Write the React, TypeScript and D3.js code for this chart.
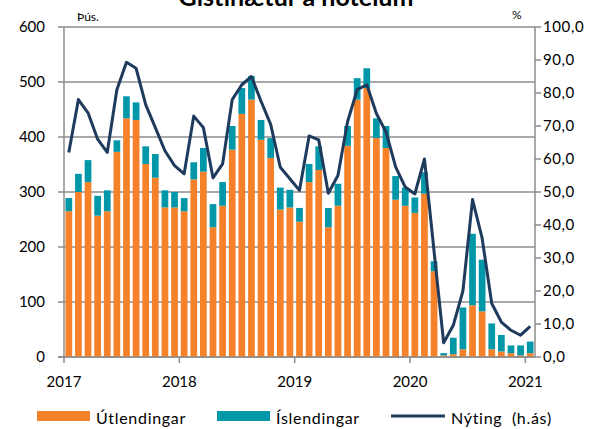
import React, { useRef, useEffect } from "react";
import * as d3 from "d3";

// months Jan 2017 - Jan 2021
const years = ["2017", "2018", "2019", "2020", "2021"];
const months = d3.range(49).map((i) => `${2017 + Math.floor(i / 12)}-${(i % 12) + 1}`);

// Þús. gistinætur
const utlendingar = [
  265, 300, 318, 257, 265, 373, 434, 431, 351, 326, 272, 272,
  265, 323, 337, 236, 275, 377, 442, 468, 395, 362, 268, 272,
  246, 318, 340, 236, 275, 384, 468, 489, 398, 380, 286, 275,
  262, 297, 156, 3, 5, 14, 94, 83, 14, 10, 7, 3,
  7,
];
const islendingar = [
  24, 33, 40, 36, 38, 21, 40, 32, 32, 43, 31, 28,
  24, 31, 43, 42, 43, 43, 47, 43, 36, 36, 40, 32,
  25, 33, 43, 35, 40, 36, 39, 36, 36, 40, 43, 33,
  28, 39, 18, 4, 30, 76, 130, 94, 47, 30, 14, 18,
  21,
];
// Nýting herbergja, %
const nyting = [
  62, 78, 74, 66, 62, 81, 89.3, 87.5, 76.5, 69.5, 62.5, 58,
  55.5, 73, 69.5, 54.3, 58.5, 78, 82.5, 85, 77.5, 70.5, 57.5, 54,
  50.5, 67, 65.8, 49.6, 55, 71.3, 81, 82.5, 73.8, 68.2, 57.6, 51.5,
  49.4, 60, 32, 4.3, 9.6, 20, 47.7, 36, 16.2, 10.6, 8.1, 6.6,
  9.3,
];
const leftTicks = [0, 100, 200, 300, 400, 500, 600];
const rightTicks = [0, 10, 20, 30, 40, 50, 60, 70, 80, 90, 100];

const ORANGE = "#F5822A";
const TEAL = "#0097A9";
const NAVY = "#1E3A5C";
const GRID = "#8C8C8C";
const FONT = "Lato, 'Open Sans', sans-serif";

const Chart = () => {
  const ref = useRef(null);
  const width = 598;
  const height = 429;

  useEffect(() => {
    const svg = d3.select(ref.current);
    svg.selectAll("*").remove();

    const left = 64;
    const right = 535;
    const top = 27;
    const bottom = 357;

    const x = d3.scaleBand().domain(months).range([left, right]).paddingInner(0.3).paddingOuter(0.15);
    const xi = d3.scaleLinear().domain([0, months.length]).range([left, right]);
    const y = d3.scaleLinear().domain([0, 600]).range([bottom, top]);
    const yr = d3.scaleLinear().domain([0, 100]).range([bottom, top]);

    svg.attr("width", width).attr("height", height).style("font-family", FONT);

    // title (cut at the top, as in the source)
    svg.append("text")
      .attr("x", 296)
      .attr("y", 6)
      .attr("text-anchor", "middle")
      .style("font-size", "25px")
      .style("font-weight", "bold")
      .text("Gistinætur á hótelum");

    svg.append("text").attr("x", 77).attr("y", 20.5).style("font-size", "12px").text("Þús.");
    svg.append("text").attr("x", 512).attr("y", 18.5).style("font-size", "12px").text("%");

    // gridlines
    svg.append("g")
      .selectAll("line")
      .data(leftTicks)
      .enter()
      .append("line")
      .attr("x1", left - 6)
      .attr("x2", right)
      .attr("y1", (d) => y(d))
      .attr("y2", (d) => y(d))
      .attr("stroke", GRID)
      .attr("stroke-width", 1.5);

    // stacked bars
    const stack = d3.stack().keys(["ut", "is"])(
      months.map((m, i) => ({ m, ut: utlendingar[i], is: islendingar[i] }))
    );
    const colors = [ORANGE, TEAL];
    stack.forEach((layer, k) => {
      svg.append("g")
        .selectAll("rect")
        .data(layer)
        .enter()
        .append("rect")
        .attr("x", (d) => x(d.data.m))
        .attr("width", x.bandwidth())
        .attr("y", (d) => y(d[1]))
        .attr("height", (d) => y(d[0]) - y(d[1]))
        .attr("fill", colors[k]);
    });

    // axes lines
    const axisG = svg.append("g").attr("stroke", GRID).attr("stroke-width", 1.5);
    axisG.append("line").attr("x1", left).attr("x2", left).attr("y1", top).attr("y2", bottom);
    axisG.append("line").attr("x1", right).attr("x2", right).attr("y1", top).attr("y2", bottom);
    axisG.append("line").attr("x1", left - 6).attr("x2", right).attr("y1", bottom).attr("y2", bottom);
    axisG.selectAll(".rt")
      .data(rightTicks)
      .enter()
      .append("line")
      .attr("x1", right)
      .attr("x2", right + 6)
      .attr("y1", (d) => yr(d))
      .attr("y2", (d) => yr(d));
    axisG.selectAll(".bt")
      .data(years)
      .enter()
      .append("line")
      .attr("x1", (d, i) => xi(i * 12))
      .attr("x2", (d, i) => xi(i * 12))
      .attr("y1", bottom)
      .attr("y2", bottom + 6);

    // tick labels
    svg.append("g")
      .selectAll("text")
      .data(leftTicks)
      .enter()
      .append("text")
      .attr("x", 45)
      .attr("y", (d) => y(d))
      .attr("dy", "0.35em")
      .attr("text-anchor", "end")
      .style("font-size", "15px")
      .text((d) => d);

    svg.append("g")
      .selectAll("text")
      .data(rightTicks)
      .enter()
      .append("text")
      .attr("x", 543)
      .attr("y", (d) => yr(d))
      .attr("dy", "0.35em")
      .style("font-size", "15px")
      .style("letter-spacing", "0.6px")
      .text((d) => d3.format(".1f")(d).replace(".", ","));

    svg.append("g")
      .selectAll("text")
      .data(years)
      .enter()
      .append("text")
      .attr("x", (d, i) => xi(i * 12))
      .attr("y", 387)
      .attr("text-anchor", "middle")
      .style("font-size", "15px")
      .text((d) => d);

    // occupancy line
    const line = d3
      .line()
      .x((d, i) => x(months[i]) + x.bandwidth() / 2)
      .y((d) => yr(d));
    svg.append("path")
      .datum(nyting)
      .attr("d", line)
      .attr("fill", "none")
      .attr("stroke", NAVY)
      .attr("stroke-width", 3)
      .attr("stroke-linejoin", "round");

    // legend
    const lg = svg.append("g").style("font-size", "16px").style("letter-spacing", "0.7px");
    lg.append("rect").attr("x", 37).attr("y", 411).attr("width", 53).attr("height", 10).attr("fill", ORANGE);
    lg.append("text").attr("x", 96).attr("y", 424).text("Útlendingar");
    lg.append("rect").attr("x", 217).attr("y", 411).attr("width", 53).attr("height", 10).attr("fill", TEAL);
    lg.append("text").attr("x", 276).attr("y", 424).text("Íslendingar");
    lg.append("line").attr("x1", 391).attr("x2", 445).attr("y1", 416).attr("y2", 416)
      .attr("stroke", NAVY).attr("stroke-width", 3);
    lg.append("text").attr("x", 451).attr("y", 424).attr("xml:space", "preserve").text("Nýting  (h.ás)");
  }, []);

  return <svg ref={ref} style={{ position: "absolute", left: 0, top: 0 }}></svg>;
};

export default function App() {
  return <Chart />;
}
